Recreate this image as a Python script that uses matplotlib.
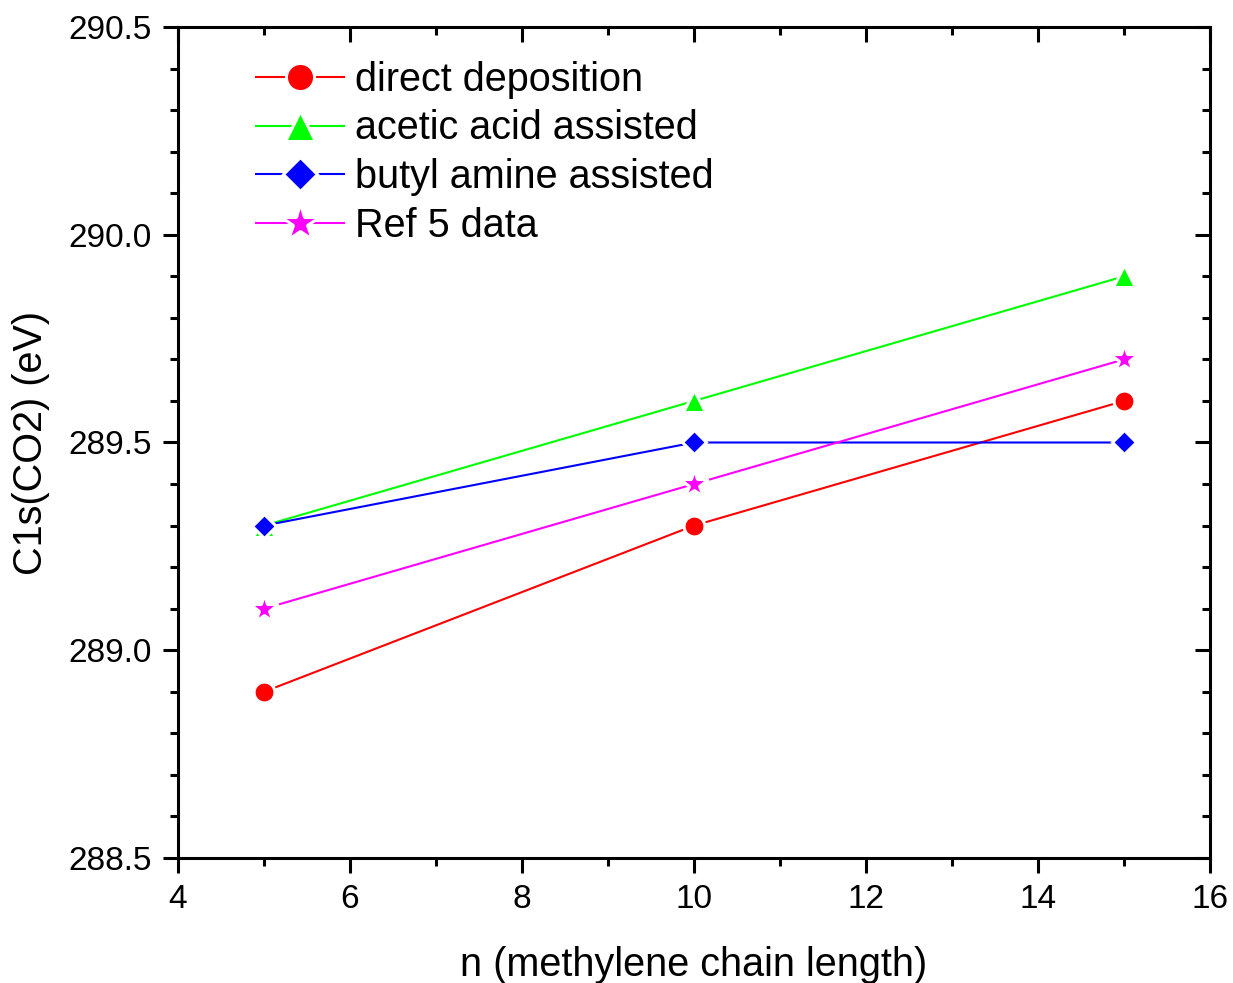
import numpy as np
import matplotlib.pyplot as plt
from matplotlib.ticker import MultipleLocator

plt.rcParams['font.family'] = ['Liberation Sans', 'DejaVu Sans']

n = [5, 10, 15]
direct = [288.9, 289.3, 289.6]
acetic = [289.3, 289.6, 289.9]
butyl = [289.3, 289.5, 289.5]
ref5 = [289.1, 289.4, 289.7]

fig = plt.figure(figsize=(12.33, 9.83), dpi=100)
ax = fig.add_axes([0.1444, 0.1272, 0.8369, 0.8453])

# white marker edge gives the small gap between line and symbol
kw = dict(lw=1.5, mec='white', mew=2.2)
ax.plot(n, direct, '-o', color='#ff0000', ms=15, label='direct deposition', **kw)
ax.plot(n, acetic, '-^', color='#00ff00', ms=16, label='acetic acid assisted', **kw)
ax.plot(n, butyl, '-D', color='#0000ff', ms=12.5, label='butyl amine assisted', **kw)
ax.plot(n, ref5, '-*', color='#ff00ff', ms=21, label='Ref 5 data', **kw)

ax.set_xlim(4, 16)
ax.set_ylim(288.5, 290.5)
ax.xaxis.set_major_locator(MultipleLocator(2))
ax.xaxis.set_minor_locator(MultipleLocator(1))
ax.yaxis.set_major_locator(MultipleLocator(0.5))
ax.yaxis.set_minor_locator(MultipleLocator(0.1))
ax.yaxis.set_major_formatter(plt.FormatStrFormatter('%.1f'))

for s in ax.spines.values():
    s.set_linewidth(2.2)
ax.tick_params(which='major', direction='out', length=11, width=2.2, labelsize=24, pad=8)
ax.tick_params(which='minor', direction='out', length=6, width=2.2)

# inward ticks on top and right
top = ax.secondary_xaxis('top')
top.xaxis.set_major_locator(MultipleLocator(2))
top.xaxis.set_minor_locator(MultipleLocator(1))
top.tick_params(which='major', direction='in', length=11, width=2.2, labeltop=False)
top.tick_params(which='minor', direction='in', length=6, width=2.2)
right = ax.secondary_yaxis('right')
right.yaxis.set_major_locator(MultipleLocator(0.5))
right.yaxis.set_minor_locator(MultipleLocator(0.1))
right.tick_params(which='major', direction='in', length=11, width=2.2, labelright=False)
right.tick_params(which='minor', direction='in', length=6, width=2.2)

ax.set_xlabel('n (methylene chain length)', fontsize=28.5, labelpad=22)
ax.set_ylabel('C1s(CO2) (eV)', fontsize=28.5, labelpad=13)

ax.legend(loc='upper left', frameon=False, fontsize=28.5, handlelength=2.2,
          handletextpad=0.3, labelspacing=0.27, markerscale=1.35,
          borderaxespad=0.2, bbox_to_anchor=(0.053, 0.988))

fig.savefig('out.png', dpi=100)
